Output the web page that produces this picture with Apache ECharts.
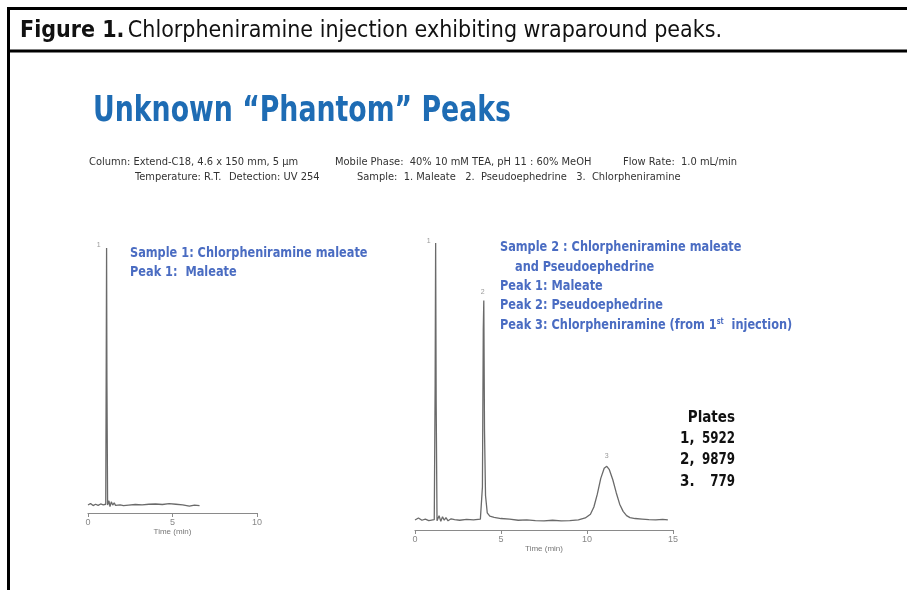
<!DOCTYPE html>
<html>
<head>
<meta charset="utf-8">
<script src="https://cdn.jsdelivr.net/npm/echarts@6/dist/echarts.min.js"></script>
<style>
  html, body { margin: 0; padding: 0; background: #fff; }
  #chart { width: 907px; height: 590px; }
</style>
</head>
<body>
<div id="chart"></div>
<script>
// Sample 1 trace (time in min, detector response, % of tallest peak)
var leftTime = [0, 0.15, 0.3, 0.45, 0.6, 0.75, 0.9, 1.05, 1.08, 1.1, 1.12, 1.16, 1.24, 1.3, 1.38, 1.46, 1.55, 1.63, 1.72, 1.9, 2.1, 2.4, 2.8, 3.2, 3.6, 4.0, 4.4, 4.8, 5.2, 5.6, 6.0, 6.3, 6.6];
var leftSignal = [3.0, 3.6, 2.8, 3.3, 2.9, 3.4, 3.1, 3.3, 60, 100, 50, 3.0, 4.6, 2.4, 4.2, 3.0, 3.8, 2.9, 3.4, 3.1, 2.8, 3.0, 3.2, 3.1, 3.3, 3.4, 3.2, 3.5, 3.3, 3.1, 2.6, 3.0, 2.8];

// Sample 2 trace
var rightTime = [0, 0.2, 0.4, 0.6, 0.8, 1.12, 1.17, 1.2, 1.23, 1.28, 1.4, 1.5, 1.6, 1.7, 1.8, 1.92, 2.1, 2.3, 2.6, 3.0, 3.4, 3.8, 3.92, 3.97, 4.0, 4.04, 4.1, 4.2, 4.35, 4.6, 5.0, 5.5, 6.0, 6.5, 7.0, 7.5, 8.0, 8.5, 9.0, 9.5, 9.9, 10.2, 10.4, 10.6, 10.8, 11.0, 11.15, 11.3, 11.5, 11.7, 11.9, 12.1, 12.3, 12.5, 12.8, 13.2, 13.6, 14.0, 14.4, 14.7];
var rightSignal = [3.5, 4.2, 3.4, 3.8, 3.3, 3.6, 50, 100, 45, 3.2, 5.0, 3.0, 4.6, 3.4, 4.3, 3.2, 3.9, 3.6, 3.4, 3.7, 3.5, 3.8, 15, 70, 80, 35, 12, 6, 4.8, 4.4, 4.0, 3.8, 3.4, 3.5, 3.3, 3.2, 3.4, 3.2, 3.3, 3.5, 4.2, 5.5, 8.0, 12.5, 18.0, 21.5, 22.2, 21.0, 17.5, 13.0, 9.0, 6.5, 5.0, 4.3, 4.0, 3.8, 3.6, 3.5, 3.7, 3.5];

// peak labels
var leftPeakNames = ['1'];
var leftPeakTimes = [1.1];
var leftPeakTops = [100];
var rightPeakNames = ['1', '2', '3'];
var rightPeakTimes = [1.2, 4.0, 11.15];
var rightPeakTops = [100, 80, 22.2];
var rightPeakOffsets = [[-7, -2], [-1, -8], [0, -10]];

var plates = [['1,', '5922'], ['2,', '9879'], ['3.', '779']];

var narrow = '"Liberation Sans Narrow", "DejaVu Sans Condensed", sans-serif';
var sans = '"Liberation Sans", Arial, sans-serif';
var blue = '#4a6cc2';
var trace = '#6a6a6a';

function pairs(t, v) {
  return t.map(function (x, i) { return [x, v[i]]; });
}

var chart = echarts.init(document.getElementById('chart'));

function timeAxis(gridIndex, maxT) {
  return {
    type: 'value',
    gridIndex: gridIndex,
    min: 0,
    max: maxT,
    interval: 5,
    name: 'Time (min)',
    nameLocation: 'middle',
    nameGap: 15,
    nameTextStyle: { fontFamily: sans, fontSize: 8, color: '#777' },
    axisLine: { lineStyle: { color: '#8a8a8a', width: 1.2 } },
    axisTick: { length: 4, lineStyle: { color: '#8a8a8a' } },
    axisLabel: { fontFamily: sans, fontSize: 9, color: '#888', margin: 5 },
    splitLine: { show: false }
  };
}

function signalAxis(gridIndex) {
  return {
    type: 'value', gridIndex: gridIndex, min: 0, max: 100,
    show: false, splitLine: { show: false }
  };
}

var rightMarks = rightPeakNames.map(function (n, i) {
  return {
    coord: [rightPeakTimes[i], rightPeakTops[i]],
    value: n,
    label: { offset: rightPeakOffsets[i] }
  };
});
var leftMarks = leftPeakNames.map(function (n, i) {
  return { coord: [leftPeakTimes[i], leftPeakTops[i]], value: n, label: { offset: [-8, -3] } };
});

function marks(data) {
  return {
    symbol: 'circle',
    symbolSize: 1,
    itemStyle: { color: 'rgba(0,0,0,0)' },
    label: { show: true, position: 'inside', fontSize: 7, fontFamily: sans, color: '#999' },
    data: data
  };
}

// blue note text, squeezed a bit to match the condensed face
function note(x, y, text) {
  return {
    type: 'text', x: x, y: y, scaleX: 0.9,
    style: { text: text, font: 'bold 14px ' + narrow, fill: blue, textVerticalAlign: 'middle' }
  };
}

function info(x, y, text) {
  return { type: 'text', x: x, y: y, style: { text: text, font: '11px ' + narrow, fill: '#333', textVerticalAlign: 'middle' } };
}

var option = {
  backgroundColor: '#fff',
  animation: false,
  grid: [
    { left: 88, width: 169, top: 248, height: 265 },
    { left: 415, width: 258, top: 243, height: 287 }
  ],
  xAxis: [timeAxis(0, 10), timeAxis(1, 15)],
  yAxis: [signalAxis(0), signalAxis(1)],
  series: [
    {
      type: 'line', xAxisIndex: 0, yAxisIndex: 0,
      data: pairs(leftTime, leftSignal),
      showSymbol: false, smooth: false,
      lineStyle: { color: trace, width: 1.3 },
      markPoint: marks(leftMarks)
    },
    {
      type: 'line', xAxisIndex: 1, yAxisIndex: 1,
      data: pairs(rightTime, rightSignal),
      showSymbol: false, smooth: false,
      lineStyle: { color: trace, width: 1.3 },
      markPoint: marks(rightMarks)
    }
  ],
  graphic: [
    // frame
    { type: 'line', shape: { x1: 7, y1: 8.5, x2: 907, y2: 8.5 }, style: { stroke: '#000', lineWidth: 3 } },
    { type: 'line', shape: { x1: 7, y1: 51, x2: 907, y2: 51 }, style: { stroke: '#000', lineWidth: 3 } },
    { type: 'line', shape: { x1: 8.5, y1: 7, x2: 8.5, y2: 590 }, style: { stroke: '#000', lineWidth: 3 } },
    {
      type: 'text', x: 20, y: 31,
      style: {
        text: '{b|Figure 1.} {r|Chlorpheniramine injection exhibiting wraparound peaks.}',
        textVerticalAlign: 'middle',
        rich: {
          b: { font: 'bold 23px ' + narrow, fill: '#111' },
          r: { font: '23px ' + narrow, fill: '#111' }
        }
      }
    },
    {
      type: 'text', x: 93, y: 112, scaleX: 0.85,
      style: { text: 'Unknown \u201cPhantom\u201d Peaks', font: 'bold 35px ' + narrow, fill: '#1e6cb4', textVerticalAlign: 'middle' }
    },
    info(89, 162, 'Column: Extend-C18, 4.6 x 150 mm, 5 \u00b5m'),
    info(335, 162, 'Mobile Phase:  40% 10 mM TEA, pH 11 : 60% MeOH'),
    info(623, 162, 'Flow Rate:  1.0 mL/min'),
    info(135, 177, 'Temperature: R.T.'),
    info(229, 177, 'Detection: UV 254'),
    info(357, 177, 'Sample:  1. Maleate   2.  Pseudoephedrine   3.  Chlorpheniramine'),
    // sample 1 notes
    note(130, 253, 'Sample 1: Chlorpheniramine maleate'),
    note(130, 272, 'Peak 1:  Maleate'),
    // sample 2 notes
    note(500, 247, 'Sample 2 : Chlorpheniramine maleate'),
    note(515, 267, 'and Pseudoephedrine'),
    note(500, 286, 'Peak 1: Maleate'),
    note(500, 305, 'Peak 2: Pseudoephedrine'),
    {
      type: 'text', x: 500, y: 325, scaleX: 0.9,
      style: {
        text: '{t|Peak 3: Chlorpheniramine (from 1}{s|st}{t|  injection)}',
        textVerticalAlign: 'middle',
        rich: {
          t: { font: 'bold 14px ' + narrow, fill: blue },
          s: { font: 'bold 8px ' + narrow, fill: blue, verticalAlign: 'top', padding: [0, 0, 6, 0] }
        }
      }
    },
    // plates
    { type: 'text', x: 735, y: 418, style: { text: 'Plates', font: 'bold 15px ' + narrow, fill: '#111', textAlign: 'right', textVerticalAlign: 'middle' } }
  ].concat(plates.map(function (p, i) {
    return {
      type: 'group',
      children: [
        { type: 'text', x: 680, y: 439 + i * 21.5, style: { text: p[0], font: 'bold 15px ' + narrow, fill: '#111', textVerticalAlign: 'middle' } },
        { type: 'text', x: 735, y: 439 + i * 21.5, scaleX: 0.88, style: { text: p[1], font: 'bold 15px ' + narrow, fill: '#111', textAlign: 'right', textVerticalAlign: 'middle' } }
      ]
    };
  }))
};

chart.setOption(option);
</script>
</body>
</html>
